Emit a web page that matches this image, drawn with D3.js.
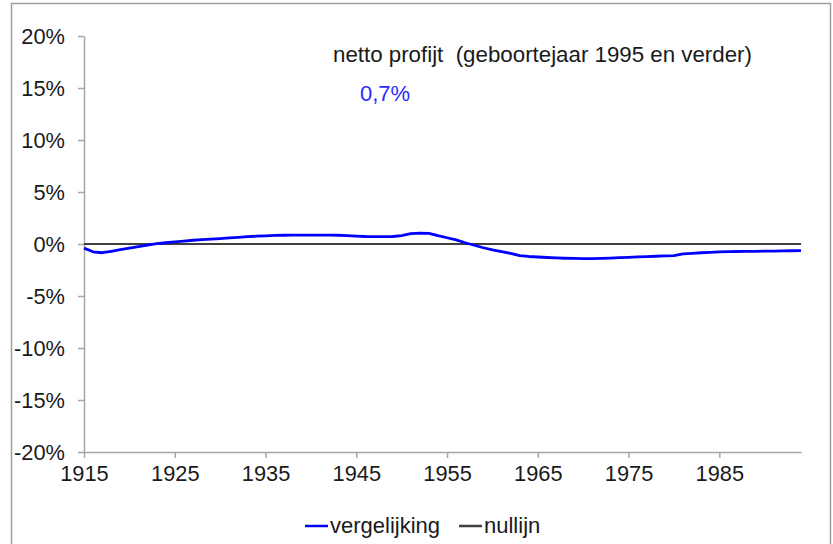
<!DOCTYPE html>
<html>
<head>
<meta charset="utf-8">
<style>
body { margin: 0; background: #fff; }
svg { display: block; font-family: "Liberation Sans", Arial, sans-serif; }
.axis .domain { stroke: #a6a6a6; stroke-width: 1.5; }
.axis .tick line { stroke: #a6a6a6; stroke-width: 1.5; }
.axis text { fill: #1a1a1a; font-size: 21.8px; font-family: "Liberation Sans", Arial, sans-serif; }
</style>
</head>
<body>
<svg width="833" height="544"></svg>
<script src="https://cdn.jsdelivr.net/npm/d3@7"></script>
<script>
// geboortejaren 1915 - 1994
var years = d3.range(1915, 1995);
var vergelijking = [
  -0.40, -0.75, -0.84, -0.70, -0.55, -0.40, -0.25, -0.10, 0.03, 0.12,
   0.20,  0.28,  0.36,  0.42,  0.47,  0.52,  0.58,  0.64, 0.70, 0.75,
   0.79,  0.82,  0.84,  0.86,  0.86,  0.86,  0.86,  0.86, 0.84, 0.80,
   0.76,  0.72,  0.70,  0.70,  0.72,  0.80,  1.00,  1.04, 1.03, 0.80,
   0.60,  0.40,  0.12, -0.12, -0.36, -0.56, -0.74, -0.90, -1.12, -1.20,
  -1.25, -1.30, -1.34, -1.37, -1.39, -1.40, -1.40, -1.38, -1.35, -1.31,
  -1.28, -1.24, -1.21, -1.18, -1.15, -1.12, -0.95, -0.90, -0.84, -0.80,
  -0.76, -0.74, -0.72, -0.71, -0.70, -0.69, -0.68, -0.67, -0.65, -0.64
];
var yTicks = [20, 15, 10, 5, 0, -5, -10, -15, -20];
var xTicks = [1915, 1925, 1935, 1945, 1955, 1965, 1975, 1985];
var titleText = "netto profijt\u00a0\u00a0(geboortejaar 1995 en verder)";
var valueText = "0,7%";
var legendItems = [
  {name: "vergelijking", color: "#0000ff"},
  {name: "nullijn", color: "#404040"}
];

var svg = d3.select("svg");

// kader om de grafiek
svg.append("rect")
    .attr("x", 11.5).attr("y", 3.5)
    .attr("width", 819).attr("height", 560)
    .attr("fill", "none")
    .attr("stroke", "#a0a0a0")
    .attr("stroke-width", 1.5);

var x = d3.scaleLinear().domain([1915, 1994]).range([84, 801]);
var y = d3.scaleLinear().domain([-20, 20]).range([452, 36]);

svg.append("g")
    .attr("class", "axis")
    .attr("transform", "translate(84,0)")
    .call(d3.axisLeft(y).tickValues(yTicks).tickSize(6).tickSizeOuter(0)
      .tickFormat(function(d) { return d + "%"; }))
    .call(function(g) { g.selectAll("text").attr("x", -19).attr("dy", "0.36em"); });

svg.append("g")
    .attr("class", "axis")
    .attr("transform", "translate(0,452)")
    .call(d3.axisBottom(x).tickValues(xTicks).tickSize(6).tickSizeOuter(0)
      .tickFormat(function(d) { return d; }))
    .call(function(g) { g.selectAll("text").attr("y", 14).attr("dy", "0.71em"); });

// nullijn
svg.append("line")
    .attr("x1", x(1915)).attr("x2", x(1994))
    .attr("y1", y(0)).attr("y2", y(0))
    .attr("stroke", "#404040")
    .attr("stroke-width", 2);

var line = d3.line()
    .x(function(d, i) { return x(years[i]); })
    .y(function(d) { return y(d); });

svg.append("path")
    .datum(vergelijking)
    .attr("fill", "none")
    .attr("stroke", "#0000ff")
    .attr("stroke-width", 2.8)
    .attr("stroke-linejoin", "round")
    .attr("d", line);

svg.append("text")
    .attr("x", 333).attr("y", 62)
    .attr("font-size", 22.3)
    .attr("fill", "#1a1a1a")
    .text(titleText);

svg.append("text")
    .attr("x", 360).attr("y", 101)
    .attr("font-size", 22)
    .attr("fill", "#2b2bff")
    .text(valueText);

// legenda
var legend = svg.append("g")
    .selectAll("g")
    .data(legendItems)
    .enter().append("g")
      .attr("transform", function(d, i) { return "translate(" + (i === 0 ? 305 : 459) + ",0)"; });

legend.append("line")
    .attr("x1", 0).attr("x2", 23)
    .attr("y1", 526).attr("y2", 526)
    .attr("stroke", function(d) { return d.color; })
    .attr("stroke-width", 2.5);

legend.append("text")
    .attr("x", 25).attr("y", 533)
    .attr("font-size", 22)
    .attr("fill", "#1a1a1a")
    .text(function(d) { return d.name; });
</script>
</body>
</html>
